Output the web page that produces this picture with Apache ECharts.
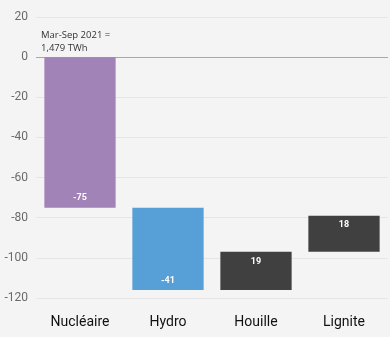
<!DOCTYPE html>
<html>
<head>
<meta charset="utf-8">
<script src="https://cdn.jsdelivr.net/npm/echarts@6/dist/echarts.min.js"></script>
<style>
  html, body { margin: 0; padding: 0; background: #fff; }
  #chart { width: 390px; height: 352px; }
</style>
</head>
<body>
<div id="chart"></div>
<script>
// 数据
var categories = ['Nucléaire', 'Hydro', 'Houille', 'Lignite']
var changes = [-75, -41, 19, 18]
var barColors = ['#a283b7', '#579fd7', '#404040', '#404040']
var yTicks = [-120, -100, -80, -60, -40, -20, 0, 20]
var noteLines = ['Mar-Sep 2021 =', '1,479 TWh']

// 瀑布图：透明底座 + 可见部分（全部为负，堆叠在同一侧）
var baseData = []
var barData = []
var running = 0
changes.forEach(function (v, i) {
  var start = running
  var end = running + v
  running = end
  var top = Math.max(start, end)
  baseData.push(top)
  barData.push({
    value: -Math.abs(v),
    shown: v,
    itemStyle: { color: barColors[i] },
    label: { position: v < 0 ? 'insideBottom' : 'insideTop' }
  })
})

// 0 那条线颜色深一点
var splitColors = yTicks.map(function (t) {
  return t === 0 ? '#a8a8a8' : '#e6e6e6'
})

var myChart = echarts.init(document.getElementById('chart'))
var option = {
  backgroundColor: '#ffffff',
  animation: false,
  graphic: [
    {
      type: 'rect',
      z: -10,
      shape: { x: 0, y: 0, width: 390, height: 337 },
      style: { fill: '#f4f4f4' },
      silent: true
    },
    {
      type: 'text',
      left: 41,
      top: 29,
      style: {
        text: noteLines.join('\n'),
        fill: '#333',
        font: '9.5px "Open Sans", sans-serif',
        lineHeight: 13
      }
    }
  ],
  grid: { left: 36, right: 2, top: 17, bottom: 54 },
  xAxis: {
    type: 'category',
    data: categories,
    axisLine: { show: false },
    axisTick: { show: false },
    axisLabel: {
      color: '#111',
      fontSize: 14,
      fontFamily: 'Roboto',
      margin: 17
    }
  },
  yAxis: {
    type: 'value',
    min: -120,
    max: 20,
    interval: 20,
    axisLine: { show: false },
    axisTick: { show: false },
    axisLabel: {
      color: '#6a6a6a',
      fontSize: 12,
      fontFamily: 'Roboto',
      margin: 8
    },
    splitLine: { lineStyle: { color: splitColors, width: 1 } }
  },
  series: [
    {
      type: 'bar',
      stack: 'wf',
      data: baseData,
      itemStyle: { color: 'transparent' },
      barWidth: '81%',
      silent: true
    },
    {
      type: 'bar',
      stack: 'wf',
      data: barData,
      barWidth: '81%',
      label: {
        show: true,
        color: '#fff',
        fontSize: 9,
        fontWeight: 'bold',
        fontFamily: 'Roboto',
        distance: 5,
        formatter: function (p) { return p.data.shown }
      }
    }
  ]
}
myChart.setOption(option)
</script>
</body>
</html>
